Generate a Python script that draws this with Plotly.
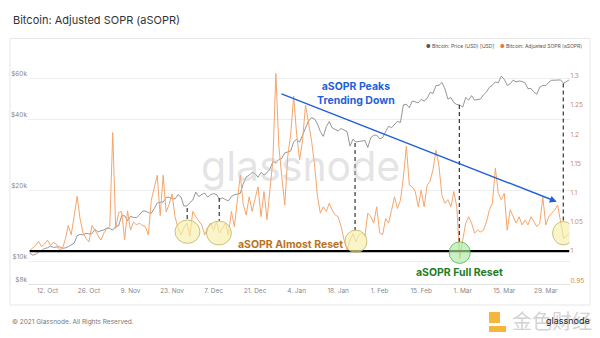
import math
import pandas as pd
import plotly.graph_objects as go

# Daily series, 6 Oct 2020 .. 6 Apr 2021
start = pd.Timestamp("2020-10-06")

price_usd = [
    10790, 10600, 10670, 10920, 11070, 11300, 11380, 11550, 11430, 11430, 11500, 11330, 11370, 11510,
    11750, 11920, 12830, 12970, 12930, 13110, 13030, 13070, 13650, 13280, 13460, 13560, 13800,
    13760, 13550, 14030, 14130, 15590, 15580, 14830, 15480, 15330, 15300, 15700, 16280, 16320, 16070,
    15960, 16730, 17650, 17780, 17820, 18650, 18700, 18420, 18370, 19160, 18740, 17150, 17140, 17720,
    18180, 19630,
    18800, 19200, 19450, 18700, 19150, 19360, 19170, 18320, 18550, 18250, 18040, 18800, 19140, 19250,
    19430, 21310, 22800, 23140, 23870, 23480, 22740, 23820, 23240, 23730, 24660, 26440, 26250, 27040,
    27360, 28840, 29000,
    29370, 32130, 33000, 32020, 34050, 36820, 39370, 40800, 40250, 38360, 35570, 33920, 37320, 39190,
    36830, 36180, 35790, 36630, 36070, 35550, 30820, 33000, 32100, 32290, 32370, 32570, 30430, 33470,
    34320, 34320, 33110,
    33540, 35510, 37470, 36930, 38290, 39260, 38900, 46200, 46480, 44920, 47970, 47500, 47110, 48720,
    47940, 49200, 52150, 51680, 55890, 55920, 57490, 54090, 48890, 49680, 47220, 46340, 46190, 45140,
    49630, 48380, 50540, 48380, 48760, 48880, 50970, 52380, 54880, 55960, 57800, 57330, 61240, 59300,
    55910, 56800, 58870, 57860, 58350, 58100, 57350, 54100, 54340, 52300, 51300, 55030, 55840, 55780,
    57630, 58780, 58800,
    58740, 58970, 57060, 58200, 59130,
]

asopr = [
    1.001, 1.005, 1.010, 1.017, 1.008, 1.012, 1.019, 1.010, 1.015, 1.012,
    1.003, 1.004, 1.020, 1.044, 1.028, 1.060, 1.094, 1.055, 1.031, 1.022,
    1.016, 1.044, 1.036, 1.028, 1.019, 1.031, 1.039, 1.042, 1.203, 1.039,
    1.066, 1.068, 1.020, 1.069, 1.036, 1.050, 1.045, 1.048, 1.044, 1.042,
    1.028, 1.087, 1.110, 1.130, 1.061, 1.130, 1.067, 1.080, 1.098, 1.059,
    1.040, 1.028, 1.040, 1.048, 1.026, 1.068, 1.059, 1.052, 1.045, 1.028,
    1.040, 1.048, 1.036, 1.050, 1.031, 1.040, 1.048, 1.028, 1.068, 1.042,
    1.090, 1.130, 1.080, 1.062, 1.093, 1.068, 1.090, 1.110, 1.059, 1.102,
    1.054, 1.100, 1.156, 1.304, 1.180, 1.127, 1.079, 1.162, 1.200, 1.265,
    1.200, 1.156, 1.190, 1.250, 1.220, 1.190, 1.150, 1.095, 1.065, 1.076,
    1.068, 1.082, 1.070, 1.062, 1.059, 1.042, 1.019, 1.002, 1.019, 1.030,
    1.016, 1.028, 1.031, 1.025, 1.065, 1.059, 1.048, 1.076, 1.031, 1.028,
    1.056, 1.048, 1.070, 1.093, 1.073, 1.087, 1.127, 1.180, 1.113, 1.110,
    1.102, 1.076, 1.104, 1.076, 1.113, 1.120, 1.140, 1.173, 1.145, 1.095,
    1.082, 1.088, 1.076, 1.102, 1.076, 0.987, 1.019, 1.048, 1.059, 1.048,
    1.031, 1.036, 1.033, 1.036, 1.050, 1.071, 1.082, 1.142, 1.099, 1.088,
    1.099, 1.036, 1.071, 1.059, 1.048, 1.059, 1.045, 1.053, 1.045, 1.059,
    1.050, 1.042, 1.048, 1.093, 1.045, 1.059, 1.065, 1.070, 1.079, 1.053,
    1.022, 1.026, 1.031,
]

dates = pd.date_range(start, periods=len(price_usd), freq="D")

x_tick_dates = ["2020-10-12", "2020-10-26", "2020-11-09", "2020-11-23", "2020-12-07",
                "2020-12-21", "2021-01-04", "2021-01-18", "2021-02-01", "2021-02-15",
                "2021-03-01", "2021-03-15", "2021-03-29"]
x_tick_text = ["12. Oct", "26. Oct", "9. Nov", "23. Nov", "7. Dec", "21. Dec", "4. Jan",
               "18. Jan", "1. Feb", "15. Feb", "1. Mar", "15. Mar", "29. Mar"]
price_ticks = [8000, 10000, 20000, 40000, 60000]
price_tick_text = ["$8k", "$10k", "$20k", "$40k", "$60k"]
sopr_ticks = [0.95, 1.0, 1.05, 1.1, 1.15, 1.2, 1.25, 1.3]
sopr_tick_text = ["0.95", "1", "1.05", "1.1", "1.15", "1.2", "1.25", "1.3"]

# Hand-drawn highlights: (day offset, aSOPR value) pairs
dips = [  # dashed drop lines: day, top, bottom
    (53.1, 1.074, 1.053),
    (63.9, 1.091, 1.052),
    (109.7, 1.185, 1.036),
    (144.85, 1.250, 1.016),
    (179.9, 1.287, 1.050),
]
rings = [  # day centre, value centre, half-width (days), half-height (value), style
    (53.2, 1.0334, 4.2, 0.0200, "yellow"),
    (63.8, 1.0311, 4.2, 0.0205, "yellow"),
    (110.0, 1.0169, 3.7, 0.0193, "yellow"),
    (145.0, 0.9976, 3.55, 0.0185, "green"),
    (179.9, 1.0308, 3.6, 0.0200, "yellow"),
]
trend_from = (84.4, 1.270)
trend_to = (177.7, 1.0847)

W, H = 600, 338


def day(t):
    return start + pd.Timedelta(hours=24 * t)


def px(v):
    return v / W


def py(v):
    return 1 - v / H


FONT = "Inter, Roboto, Arial, sans-serif"
ORANGE = "#f5a56a"
AXIS_ORANGE = "#d08a55"

fig = go.Figure()

fig.add_trace(go.Scatter(
    x=dates, y=price_usd, mode="lines", name="Bitcoin: Price (USD) [USD]",
    line=dict(color="#6a6a6a", width=0.7), yaxis="y", hoverinfo="skip",
))
fig.add_trace(go.Scatter(
    x=dates, y=asopr, mode="lines", name="Bitcoin: Adjusted SOPR (aSOPR)",
    line=dict(color=ORANGE, width=1.0), yaxis="y2", hoverinfo="skip",
))

shapes = []
# card frame
shapes.append(dict(type="rect", xref="paper", yref="paper", x0=px(10), x1=px(590),
                   y0=py(305), y1=py(38.5), line=dict(color="#e6e6e6", width=1),
                   fillcolor="rgba(0,0,0,0)", layer="below"))
# reset line at aSOPR = 1
shapes.append(dict(type="line", xref="x", yref="y2", x0=dates[0], x1=dates[-1], y0=1, y1=1,
                   line=dict(color="#000000", width=2.2)))
for d, top, bot in dips:
    shapes.append(dict(type="line", xref="x", yref="y2", x0=day(d), x1=day(d), y0=top, y1=bot,
                       line=dict(color="#222222", width=1.1, dash="4px,3px")))
for d, v, hw, hh, style in rings:
    if style == "green":
        fill, edge = "rgba(170,235,160,0.65)", "#58b050"
    else:
        fill, edge = "rgba(246,240,170,0.65)", "#bdb45e"
    shapes.append(dict(type="circle", xref="x", yref="y2", x0=day(d - hw), x1=day(d + hw),
                       y0=v - hh, y1=v + hh, fillcolor=fill, line=dict(color=edge, width=0.8)))

annotations = []
annotations.append(dict(xref="paper", yref="paper", x=px(11), y=py(20), xanchor="left",
                        yanchor="middle", showarrow=False, text="Bitcoin: Adjusted SOPR (aSOPR)",
                        font=dict(family=FONT, size=11, color="#333333")))
annotations.append(dict(xref="paper", yref="paper", x=px(10), y=py(322), xanchor="left",
                        yanchor="middle", showarrow=False, text="© 2021 Glassnode. All Rights Reserved.",
                        font=dict(family=FONT, size=6.5, color="#777777")))
# legend
annotations.append(dict(xref="paper", yref="paper", x=px(424), y=py(45.7), xanchor="left",
                        yanchor="middle", showarrow=False,
                        text="<span style='color:#555555'>●</span> Bitcoin: Price (USD) [USD]",
                        font=dict(family=FONT, size=5, color="#555555")))
annotations.append(dict(xref="paper", yref="paper", x=px(498), y=py(45.7), xanchor="left",
                        yanchor="middle", showarrow=False,
                        text="<span style='color:#e8762d'>●</span> Bitcoin: Adjusted SOPR (aSOPR)",
                        font=dict(family=FONT, size=5, color="#555555")))
# watermark
annotations.append(dict(xref="paper", yref="paper", x=px(300), y=py(166), xanchor="center",
                        yanchor="middle", showarrow=False, text="glassnode",
                        font=dict(family=FONT, size=41, color="rgba(195,195,195,0.45)")))
# trend arrow
annotations.append(dict(xref="x", yref="y2", axref="x", ayref="y2",
                        x=day(trend_to[0]), y=trend_to[1], ax=day(trend_from[0]), ay=trend_from[1],
                        showarrow=True, arrowhead=2, arrowsize=1, arrowwidth=1.4,
                        arrowcolor="#1f5fd8", text=""))
annotations.append(dict(xref="paper", yref="paper", x=px(356), y=py(94), xanchor="center",
                        yanchor="middle", showarrow=False, text="<b>aSOPR Peaks<br>Trending Down</b>",
                        font=dict(family=FONT, size=10.5, color="#1f5fd8")))
annotations.append(dict(xref="paper", yref="paper", x=px(290), y=py(244), xanchor="center",
                        yanchor="middle", showarrow=False, text="<b>aSOPR Almost Reset</b>",
                        font=dict(family=FONT, size=10.5, color="#b9731f")))
annotations.append(dict(xref="paper", yref="paper", x=px(459), y=py(272.5), xanchor="center",
                        yanchor="middle", showarrow=False, text="<b>aSOPR Full Reset</b>",
                        font=dict(family=FONT, size=10.5, color="#1e7d1e")))
# publisher mark, bottom right
shapes.append(dict(type="rect", xref="paper", yref="paper", x0=px(489), x1=px(500),
                   y0=py(323), y1=py(312), fillcolor="#f4b63c", line=dict(width=0)))
shapes.append(dict(type="rect", xref="paper", yref="paper", x0=px(489), x1=px(506),
                   y0=py(332), y1=py(326), fillcolor="#f4b63c", line=dict(width=0)))
annotations.append(dict(xref="paper", yref="paper", x=px(552), y=py(320), xanchor="center",
                        yanchor="middle", showarrow=False, text="金色财经",
                        font=dict(family="Noto Sans CJK SC", size=20, color="rgba(205,205,205,0.9)")))
annotations.append(dict(xref="paper", yref="paper", x=px(568), y=py(320), xanchor="center",
                        yanchor="middle", showarrow=False, text="glassnode",
                        font=dict(family=FONT, size=9, color="#222222")))

fig.update_layout(
    width=W, height=H, margin=dict(l=0, r=0, t=0, b=0),
    paper_bgcolor="white", plot_bgcolor="white", showlegend=False,
    font=dict(family=FONT),
    shapes=shapes, annotations=annotations,
    xaxis=dict(
        type="date", domain=[px(28), px(569.5)], range=[day(-0.57), day(182)],
        tickvals=x_tick_dates, ticktext=x_tick_text, ticks="",
        tickfont=dict(family=FONT, size=6.5, color="#888888"),
        showgrid=False, zeroline=False, showline=True, linecolor="#e3e3e3", linewidth=1,
    ),
    yaxis=dict(
        type="log", domain=[py(283.9), py(62)],
        range=[math.log10(7990), math.log10(70300)],
        tickvals=price_ticks, ticktext=price_tick_text, ticks="",
        ticklabelposition="outside top",
        tickfont=dict(family=FONT, size=6.5, color="#888888"),
        showgrid=True, gridcolor="#eeeeee", gridwidth=1, zeroline=False, showline=False,
    ),
    yaxis2=dict(
        overlaying="y", side="right", anchor="x",
        range=[0.9441, 1.3236],
        tickvals=sopr_ticks, ticktext=sopr_tick_text, ticks="",
        tickfont=dict(family=FONT, size=6.5, color=AXIS_ORANGE),
        showgrid=False, zeroline=False, showline=False,
    ),
)

fig.write_html("out.html")
